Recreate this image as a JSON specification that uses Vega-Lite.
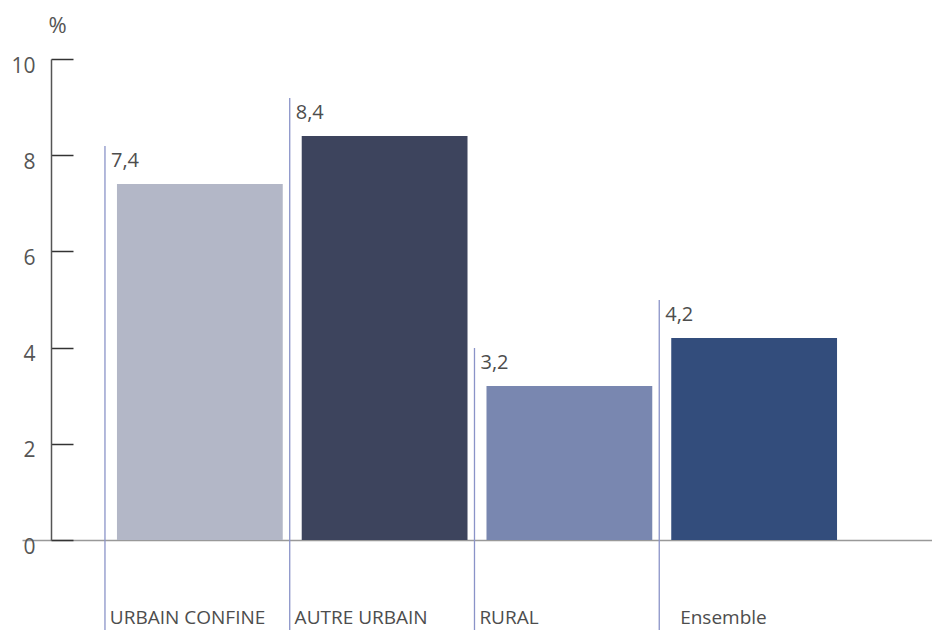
{
  "$schema": "https://vega.github.io/schema/vega-lite/v6.json",
  "width": 910,
  "height": 481,
  "autosize": {"type": "none"},
  "padding": {"left": 22, "top": 59, "right": 0, "bottom": 90},
  "background": "white",
  "config": {"view": {"stroke": null}, "font": "Open Sans"},
  "data": {
    "values": [
      {"cat": "URBAIN CONFINE", "v": 7.4, "lab": "7,4"},
      {"cat": "AUTRE URBAIN", "v": 8.4, "lab": "8,4"},
      {"cat": "RURAL", "v": 3.2, "lab": "3,2"},
      {"cat": "Ensemble", "v": 4.2, "lab": "4,2"}
    ]
  },
  "layer": [
    {
      "mark": {"type": "bar"},
      "encoding": {
        "x": {
          "field": "cat", "type": "nominal", "sort": null,
          "scale": {"paddingInner": 0.1027, "paddingOuter": 0.514},
          "axis": {
            "orient": "bottom", "domain": true, "domainColor": "#999999", "domainWidth": 1.5,
            "ticks": false, "labelAlign": "left",
            "labelOffset": {"condition": {"test": "datum.value === 'Ensemble'", "value": -74}, "value": -90},
            "labelPadding": 77, "labelBaseline": "middle", "labelFontSize": 19,
            "labelColor": "#4d4d4d", "labelAngle": 0, "title": null
          }
        },
        "y": {
          "field": "v", "type": "quantitative",
          "scale": {"domain": [0, 10], "nice": false},
          "axis": {
            "values": [0, 2, 4, 6, 8, 10], "offset": -29, "tickSize": -22,
            "tickColor": "#333333", "tickWidth": 1.5, "domainColor": "#555555", "domainWidth": 1.5,
            "labelFontSize": 21, "labelColor": "#555555", "labelPadding": 38, "labelOffset": 7,
            "grid": false, "title": "%", "titleAngle": 0, "titleX": 6, "titleY": -34,
            "titleFontSize": 22, "titleFontWeight": "normal", "titleColor": "#555555",
            "titleAlign": "center", "titleBaseline": "middle"
          }
        },
        "color": {
          "field": "cat", "type": "nominal", "sort": null,
          "scale": {"range": ["#b3b7c7", "#3d445d", "#7987b0", "#334d7c"]},
          "legend": null
        }
      }
    },
    {
      "mark": {"type": "rule", "color": "#8a93c8", "strokeWidth": 1.3, "xOffset": -12, "yOffset": -38},
      "encoding": {
        "x": {"field": "cat", "type": "nominal", "sort": null, "bandPosition": 0},
        "y": {"field": "v", "type": "quantitative"},
        "y2": {"datum": -1.87}
      }
    },
    {
      "mark": {"type": "text", "align": "left", "baseline": "middle", "dx": -6, "dy": -23, "fontSize": 20, "color": "#4d4d4d"},
      "encoding": {
        "x": {"field": "cat", "type": "nominal", "sort": null, "bandPosition": 0},
        "y": {"field": "v", "type": "quantitative"},
        "text": {"field": "lab"}
      }
    }
  ]
}
